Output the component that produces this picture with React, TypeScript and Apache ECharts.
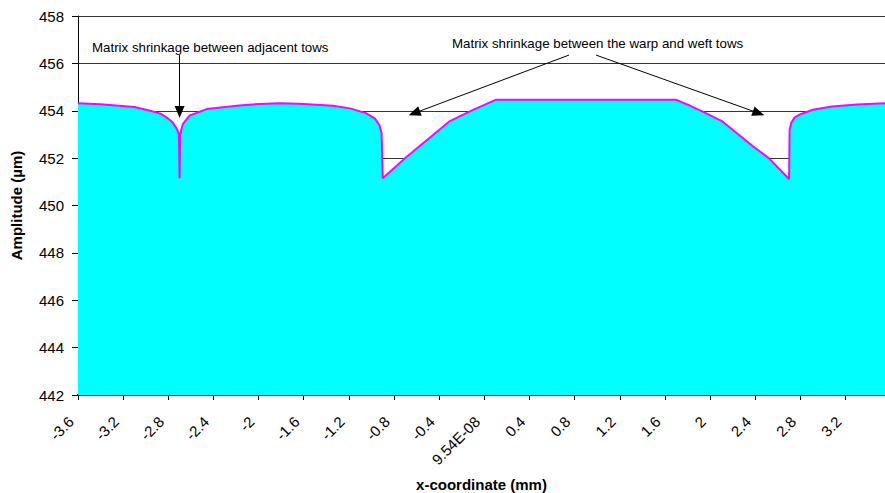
import React, { useEffect, useRef } from "react";
import * as echarts from "echarts";

const xCoord = [
  -3.6, -3.4, -3.1, -2.96, -2.87, -2.81, -2.76, -2.72, -2.705, -2.7, -2.695, -2.685, -2.67,
  -2.61, -2.46, -2.17, -1.99, -1.81, -1.64, -1.34, -1.19, -1.05, -0.97, -0.93, -0.91, -0.9,
  -0.69, -0.31, -0.1, 0.1, 1.4, 1.7, 1.82, 1.93, 2.11, 2.38, 2.52, 2.7, 2.705, 2.72, 2.75,
  2.79, 2.91, 3.08, 3.3, 3.55,
];
const amplitude = [
  454.32, 454.27, 454.16, 454.0, 453.88, 453.7, 453.5, 453.2, 452.95, 451.15, 452.95, 453.2, 453.45,
  453.8, 454.07, 454.22, 454.29, 454.32, 454.3, 454.21, 454.1, 453.9, 453.68, 453.4, 453.05, 451.15,
  452.05, 453.55, 454.04, 454.46, 454.46, 454.46, 454.22, 453.97, 453.55, 452.5, 452.0, 451.12, 453.2, 453.5, 453.72,
  453.83, 454.04, 454.18, 454.26, 454.32,
];

const yMin = 442;
const yMax = 458;
const yStep = 2;
const xMin = -3.6;
const xMax = 3.55;
const xStep = 0.4;

const annotation1 = "Matrix shrinkage between adjacent tows";
const annotation2 = "Matrix shrinkage between the warp and weft tows";
// arrows in data coordinates: [x1, y1, x2, y2]
const arrows = [
  [-2.7, 456.35, -2.7, 453.95],
  [0.75, 456.35, -0.62, 453.9],
  [0.99, 456.35, 2.43, 453.9],
];

export default function App() {
  const ref = useRef<HTMLDivElement>(null);
  useEffect(() => {
    document.body.style.margin = "0";
    const chart = echarts.init(ref.current!, null, { renderer: "svg" });
    const font = "'Liberation Sans', Arial, sans-serif";
    chart.setOption({
      animation: false,
      backgroundColor: "#ffffff",
      grid: { left: 78, right: 0, top: 16, bottom: 98, containLabel: false, outerBoundsMode: "none" },
      xAxis: {
        type: "value",
        min: xMin,
        max: xMax,
        interval: xStep,
        name: "x-coordinate (mm)",
        nameLocation: "middle",
        nameGap: 82,
        nameTextStyle: { fontFamily: font, fontSize: 15, fontWeight: "bold", color: "#000" },
        axisLine: { show: true, onZero: false, lineStyle: { color: "#4a004a", width: 2 } },
        axisTick: { show: true, length: 5, lineStyle: { color: "#000" } },
        splitLine: { show: false },
        axisLabel: {
          rotate: 45,
          margin: 17,
          padding: [0, 10, 0, 0],
          fontFamily: font,
          fontSize: 15,
          color: "#000",
          showMaxLabel: false,
          formatter: (v: number) => {
            if (v > 3.3) return "";
            if (Math.abs(v) < 1e-6) return "9.54E-08";
            return String(Math.round(v * 10) / 10);
          },
        },
      },
      yAxis: {
        type: "value",
        min: yMin,
        max: yMax,
        interval: yStep,
        name: "Amplitude (µm)",
        nameLocation: "middle",
        nameGap: 54,
        nameTextStyle: { fontFamily: font, fontSize: 15, fontWeight: "bold", color: "#000" },
        axisLine: { show: true, onZero: false, lineStyle: { color: "#000", width: 1 } },
        axisTick: { show: true, length: 6, lineStyle: { color: "#000" } },
        splitLine: { show: true, lineStyle: { color: "#333", width: 1 } },
        axisLabel: { margin: 14, fontFamily: font, fontSize: 15, color: "#000" },
      },
      series: [
        {
          type: "line",
          data: xCoord.map((x, i) => [x, amplitude[i]]),
          showSymbol: false,
          symbol: "none",
          lineStyle: { color: "#FF00FF", width: 2 },
          areaStyle: { color: "#00FFFF", opacity: 1 },
          z: 2,
          markLine: {
            silent: true,
            symbol: ["none", "triangle"],
            symbolSize: [10, 12],
            label: { show: false },
            lineStyle: { color: "#000", width: 1, type: "solid" },
            data: arrows.map((a) => [{ coord: [a[0], a[1]] }, { coord: [a[2], a[3]] }]),
          },
        },
      ],
      graphic: [
        {
          type: "text",
          left: 92,
          top: 41,
          style: { text: annotation1, font: `13.3px ${font}`, fill: "#000" },
        },
        {
          type: "text",
          left: 452,
          top: 37,
          style: { text: annotation2, font: `13.3px ${font}`, fill: "#000" },
        },
      ],
    });
    return () => chart.dispose();
  }, []);
  return <div ref={ref} style={{ width: 885, height: 493 }} />;
}
